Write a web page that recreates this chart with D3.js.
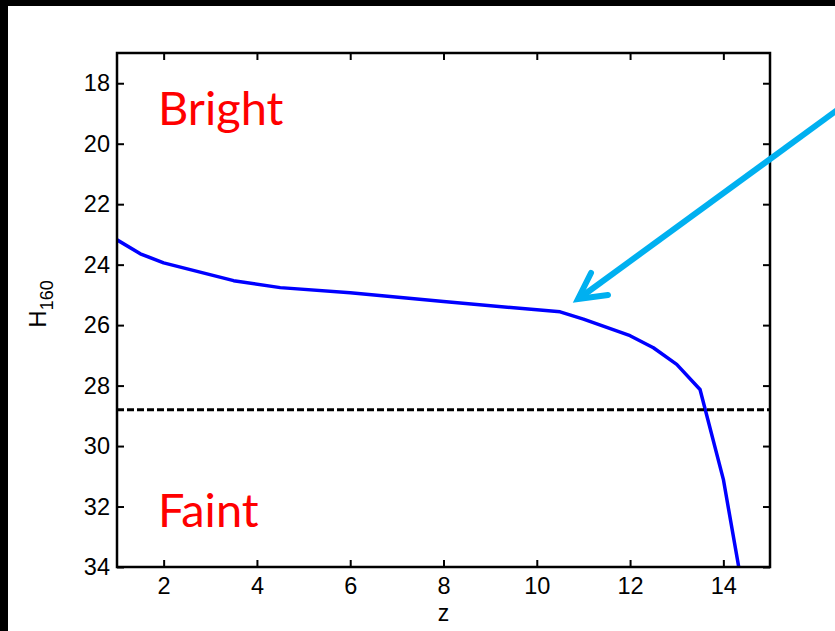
<!DOCTYPE html>
<html>
<head>
<meta charset="utf-8">
<script src="https://cdn.jsdelivr.net/npm/d3@7"></script>
<style>
  body { margin: 0; background: #000; }
  svg { display: block; }
</style>
</head>
<body>
<script>
// curve: redshift vs limiting H160 magnitude
const zValues = [1, 1.5, 2, 3.5, 4.5, 6, 8, 10.5, 11, 12, 12.5, 13, 13.5, 14, 14.5];
const hValues = [23.18, 23.64, 23.94, 24.53, 24.76, 24.93, 25.22, 25.56, 25.8, 26.35, 26.75, 27.3, 28.13, 31.1, 35.5];
const limitH = 28.8;
const xTicks = [2, 4, 6, 8, 10, 12, 14];
const yTicks = [18, 20, 22, 24, 26, 28, 30, 32, 34];

const W = 835, H = 631;
const margin = {top: 53, right: 65, bottom: 64, left: 117};

const svg = d3.select("body").append("svg")
  .attr("width", W).attr("height", H);

// white page with black strips on top and left
svg.append("rect").attr("width", W).attr("height", H).attr("fill", "#000");
svg.append("rect").attr("x", 8).attr("y", 6).attr("width", W - 8).attr("height", H - 6).attr("fill", "#fff");

const x = d3.scaleLinear().domain([1, 15]).range([margin.left, W - margin.right]);
const y = d3.scaleLinear().domain([17, 34]).range([margin.top, H - margin.bottom]);

svg.append("defs").append("clipPath").attr("id", "plot")
  .append("rect")
  .attr("x", margin.left).attr("y", margin.top)
  .attr("width", x(15) - x(1)).attr("height", y(34) - y(17));

const data = zValues.map((z, i) => ({z: z, h: hValues[i]}));

const line = d3.line().x(d => x(d.z)).y(d => y(d.h));

svg.append("path")
  .datum(data)
  .attr("clip-path", "url(#plot)")
  .attr("fill", "none")
  .attr("stroke", "#0000ff")
  .attr("stroke-width", 3.5)
  .attr("stroke-linejoin", "round")
  .attr("d", line);

svg.append("line")
  .attr("x1", x(1)).attr("x2", x(15))
  .attr("y1", y(limitH)).attr("y2", y(limitH))
  .attr("stroke", "#000").attr("stroke-width", 3)
  .attr("stroke-dasharray", "7,3");

// axes: ticks pointing inward, mirrored on top and right
const font = "Liberation Sans, Arial, sans-serif";
function styleAxis(g) {
  g.select(".domain").remove();
  g.selectAll("line").attr("stroke", "#000").attr("stroke-width", 2);
  g.selectAll("text").attr("font-family", font).attr("font-size", 23.5).attr("fill", "#000");
}

svg.append("g").attr("transform", `translate(0,${y(34)})`)
  .call(d3.axisBottom(x).tickValues(xTicks).tickSize(-7).tickPadding(10))
  .call(styleAxis);
svg.append("g").attr("transform", `translate(0,${y(17)})`)
  .call(d3.axisTop(x).tickValues(xTicks).tickSize(-7).tickFormat(""))
  .call(styleAxis);
svg.append("g").attr("transform", `translate(${x(1)},0)`)
  .call(d3.axisLeft(y).tickValues(yTicks).tickSize(-7).tickPadding(7))
  .call(styleAxis);
svg.append("g").attr("transform", `translate(${x(15)},0)`)
  .call(d3.axisRight(y).tickValues(yTicks).tickSize(-7).tickFormat(""))
  .call(styleAxis);

svg.append("rect")
  .attr("x", x(1)).attr("y", y(17))
  .attr("width", x(15) - x(1)).attr("height", y(34) - y(17))
  .attr("fill", "none").attr("stroke", "#000").attr("stroke-width", 2.5);

// axis titles
svg.append("text")
  .attr("x", (x(1) + x(15)) / 2).attr("y", 621)
  .attr("text-anchor", "middle")
  .attr("font-family", font).attr("font-size", 23)
  .text("z");

const yl = svg.append("text")
  .attr("transform", `translate(46,${y(25.3)}) rotate(-90)`)
  .attr("text-anchor", "middle")
  .attr("font-family", font).attr("font-size", 24);
yl.append("tspan").text("H");
yl.append("tspan").attr("font-size", 18).attr("dy", 7).text("160");

// annotations
svg.append("text")
  .attr("x", 158).attr("y", 125)
  .attr("font-family", "Lato, Open Sans, sans-serif").attr("font-size", 47)
  .attr("fill", "#ff0000").text("Bright");
svg.append("text")
  .attr("x", 158).attr("y", 527)
  .attr("font-family", "Lato, Open Sans, sans-serif").attr("font-size", 47)
  .attr("fill", "#ff0000").text("Faint");

// arrow pointing at the knee of the curve
const tip = [578, 299];
svg.append("line")
  .attr("x1", 840).attr("y1", 108).attr("x2", tip[0] + 3).attr("y2", tip[1] - 2)
  .attr("stroke", "#00b0f0").attr("stroke-width", 6);
svg.append("path")
  .attr("d", `M591,273 L${tip[0]},${tip[1]} L608,295`)
  .attr("fill", "none")
  .attr("stroke", "#00b0f0").attr("stroke-width", 6)
  .attr("stroke-linecap", "round").attr("stroke-linejoin", "miter");
</script>
</body>
</html>
